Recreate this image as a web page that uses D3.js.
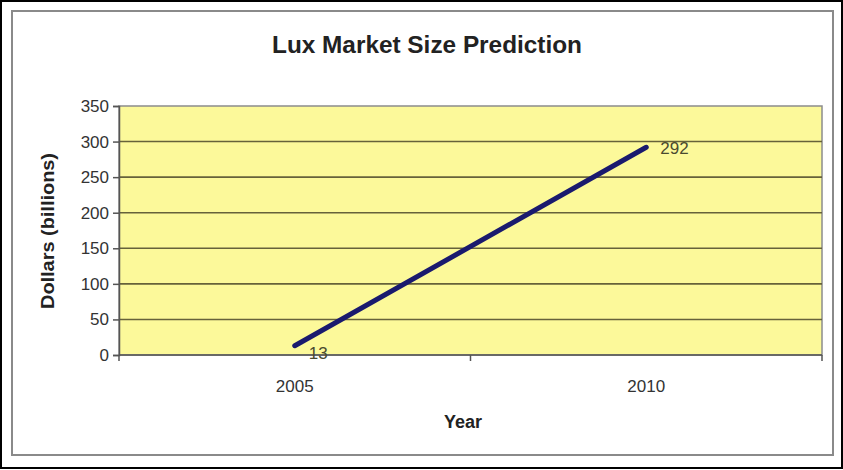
<!DOCTYPE html>
<html>
<head>
<meta charset="utf-8">
<title>Lux Market Size Prediction</title>
<script src="https://cdn.jsdelivr.net/npm/d3@7"></script>
<style>
html, body { margin: 0; padding: 0; background: #fff; }
svg { display: block; font-family: "Liberation Sans", Arial, sans-serif; }
</style>
</head>
<body>
<div id="chart"></div>
<script>
// chart data
const years = ["2005", "2010"];
const values = [13, 292];
const yTicks = [0, 50, 100, 150, 200, 250, 300, 350];

const W = 843, H = 470;
const margin = { left: 119, right: 21, top: 106, bottom: 115 };

const svg = d3.select("#chart").append("svg").attr("width", W).attr("height", H);

// outer frame and chart border
svg.append("rect").attr("x", 1).attr("y", 1).attr("width", W - 2).attr("height", H - 3)
    .attr("fill", "#fff").attr("stroke", "#000").attr("stroke-width", 2);
svg.append("rect").attr("x", 12).attr("y", 11).attr("width", 821).attr("height", 444)
    .attr("fill", "#fff").attr("stroke", "#8a8a8a").attr("stroke-width", 2);

const x = d3.scaleBand().domain(years).range([margin.left, W - margin.right]);
const y = d3.scaleLinear().domain([0, 350]).range([H - margin.bottom, margin.top]);

// plot area
svg.append("rect")
    .attr("x", margin.left).attr("y", margin.top)
    .attr("width", W - margin.left - margin.right)
    .attr("height", H - margin.top - margin.bottom)
    .attr("fill", "#fcf99a").attr("stroke", "#8c8c8c").attr("stroke-width", 1.5);

// grid lines
svg.append("g").selectAll("line").data(yTicks.slice(1, -1)).enter().append("line")
    .attr("x1", margin.left).attr("x2", W - margin.right)
    .attr("y1", d => y(d)).attr("y2", d => y(d))
    .attr("stroke", "#66623a").attr("stroke-width", 1.6);

// y axis
const yAxis = svg.append("g").attr("transform", "translate(" + margin.left + ",0)")
    .call(d3.axisLeft(y).tickValues(yTicks).tickSize(6).tickPadding(4));
yAxis.select(".domain").attr("stroke", "#555").attr("stroke-width", 1.5);
yAxis.selectAll(".tick line").attr("stroke", "#555").attr("stroke-width", 1.5);
yAxis.selectAll("text").attr("font-size", 17).attr("fill", "#333");

// x axis, ticks between categories
const xAxis = svg.append("g").attr("transform", "translate(0," + y(0) + ")");
xAxis.append("line").attr("x1", margin.left).attr("x2", W - margin.right)
    .attr("stroke", "#555").attr("stroke-width", 1.5);
const edges = [x.range()[0]].concat(years.map(d => x(d) + x.bandwidth()));
xAxis.selectAll(".tk").data(edges).enter().append("line")
    .attr("x1", d => d).attr("x2", d => d).attr("y1", 0).attr("y2", 6)
    .attr("stroke", "#555").attr("stroke-width", 1.5);
xAxis.selectAll("text").data(years).enter().append("text")
    .attr("x", d => x(d) + x.bandwidth() / 2).attr("y", 37)
    .attr("text-anchor", "middle").attr("font-size", 17).attr("fill", "#333")
    .text(d => d);

// line
const cx = d => x(d) + x.bandwidth() / 2;
const line = d3.line().x((d, i) => cx(years[i])).y(d => y(d));
svg.append("path").datum(values).attr("d", line)
    .attr("fill", "none").attr("stroke", "#1a1a6e").attr("stroke-width", 5)
    .attr("stroke-linecap", "round");

// data labels
svg.selectAll(".lbl").data(values).enter().append("text")
    .attr("x", (d, i) => cx(years[i]) + 14)
    .attr("y", (d, i) => i === 0 ? y(d) + 13 : y(d) + 7)
    .attr("font-size", 17).attr("fill", "#4a4a30")
    .text(d => d);

// titles
svg.append("text").attr("x", 427).attr("y", 53).attr("text-anchor", "middle")
    .attr("font-size", 23).attr("font-weight", "bold").attr("fill", "#222")
    .attr("textLength", 310).attr("lengthAdjust", "spacingAndGlyphs")
    .text("Lux Market Size Prediction");
svg.append("text").attr("x", 463).attr("y", 428).attr("text-anchor", "middle")
    .attr("font-size", 18).attr("font-weight", "bold").attr("fill", "#222")
    .text("Year");
svg.append("text").attr("transform", "translate(54,231) rotate(-90)")
    .attr("text-anchor", "middle")
    .attr("font-size", 18).attr("font-weight", "bold").attr("fill", "#222")
    .attr("textLength", 156).attr("lengthAdjust", "spacingAndGlyphs")
    .text("Dollars (billions)");
</script>
</body>
</html>
